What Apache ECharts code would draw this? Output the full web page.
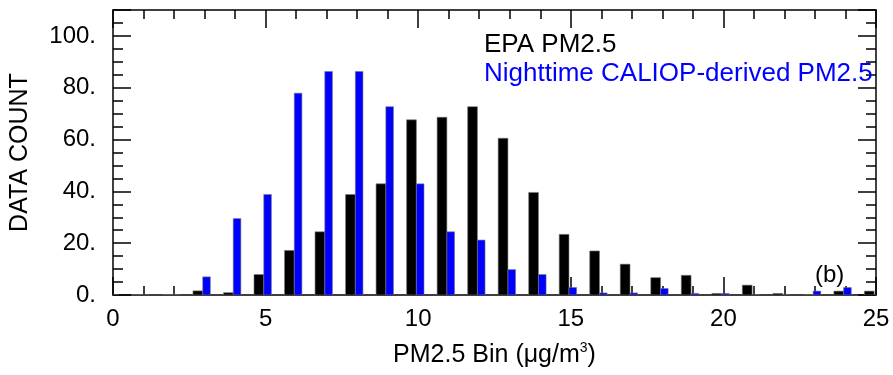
<!DOCTYPE html>
<html>
<head>
<meta charset="utf-8">
<script src="https://cdn.jsdelivr.net/npm/echarts@6/dist/echarts.min.js"></script>
<style>
  html, body { margin: 0; padding: 0; background: #fff; }
  #chart { width: 893px; height: 375px; }
</style>
</head>
<body>
<div id="chart"></div>
<script>
// bins are integer PM2.5 values, two histograms side by side
const bins = [0, 1, 2, 3, 4, 5, 6, 7, 8, 9, 10, 11, 12, 13, 14, 15, 16, 17, 18, 19, 20, 21, 22, 23, 24, 25]
const epaCounts = [0, 0, 0, 1.6, 0.9, 7.9, 17.2, 24.4, 38.8, 42.9, 67.6, 68.6, 72.7, 60.5, 39.6, 23.4, 17.0, 11.9, 6.7, 7.6, 0.6, 3.8, 0.6, 0, 1.5, 1.5]
const caliopCounts = [0, 0, 0, 7.0, 29.5, 38.8, 77.9, 86.3, 86.3, 72.7, 42.9, 24.4, 21.2, 9.8, 7.9, 2.9, 0.8, 0.8, 2.5, 0.6, 0.6, 0, 0, 1.5, 2.9, 0]
const xTicks = [0, 5, 10, 15, 20, 25]
const yTicks = [0, 20, 40, 60, 80, 100]

const FONT = 'Liberation Sans, Arial, Helvetica, sans-serif'

const chart = echarts.init(document.getElementById('chart'))

// draw a bar between bin+from and bin+to using the axis scales
function barRenderer (from, to, color) {
  return function (params, api) {
    const x = api.value(0)
    const y = api.value(1)
    const top = api.coord([x + from, y])
    const bottom = api.coord([x + to, 0])
    return {
      type: 'rect',
      shape: { x: top[0], y: top[1], width: bottom[0] - top[0], height: bottom[1] - top[1] },
      style: { fill: color, stroke: '#777', lineWidth: 0.6 }
    }
  }
}

const frameLine = { show: true, onZero: false, lineStyle: { color: '#000', width: 1.5 } }

const option = {
  animation: false,
  backgroundColor: '#fff',
  textStyle: { fontFamily: FONT },
  grid: { left: 110, right: 17, top: 10, bottom: 80 },
  legend: {
    left: 474,
    top: 27,
    orient: 'vertical',
    itemWidth: 0,
    itemHeight: 0,
    itemGap: 3,
    selectedMode: false,
    textStyle: { fontSize: 26, fontFamily: FONT },
    data: [
      { name: 'EPA PM2.5', icon: 'rect', textStyle: { color: '#000' } },
      { name: 'Nighttime CALIOP-derived PM2.5', icon: 'rect', textStyle: { color: '#0000ff' } }
    ]
  },
  xAxis: [
    {
      type: 'value',
      min: xTicks[0],
      max: xTicks[xTicks.length - 1],
      interval: 5,
      position: 'bottom',
      name: 'PM2.5 Bin (μg/m{sup|3})',
      nameLocation: 'middle',
      nameGap: 46,
      nameTextStyle: {
        fontSize: 25,
        color: '#000',
        fontFamily: FONT,
        rich: { sup: { fontSize: 14, verticalAlign: 'top', padding: [0, 0, 14, 0], color: '#000', fontFamily: FONT } }
      },
      axisLine: frameLine,
      axisTick: { show: true, inside: true, length: 18, lineStyle: { color: '#000', width: 1.5 } },
      minorTick: { show: true, splitNumber: 5, length: 9, lineStyle: { color: '#000', width: 1.5 } },
      axisLabel: { fontSize: 24, color: '#000', margin: 12, fontFamily: FONT },
      splitLine: { show: false }
    },
    {
      type: 'value',
      min: xTicks[0],
      max: xTicks[xTicks.length - 1],
      interval: 5,
      position: 'top',
      axisLine: frameLine,
      axisTick: { show: true, inside: true, length: 18, lineStyle: { color: '#000', width: 1.5 } },
      minorTick: { show: true, splitNumber: 5, length: 9, lineStyle: { color: '#000', width: 1.5 } },
      axisLabel: { show: false },
      splitLine: { show: false }
    }
  ],
  yAxis: [
    {
      type: 'value',
      min: yTicks[0],
      max: 110,
      interval: 20,
      position: 'left',
      name: 'DATA COUNT',
      nameLocation: 'middle',
      nameGap: 80,
      nameTextStyle: { fontSize: 25, color: '#000', fontFamily: FONT },
      axisLine: frameLine,
      axisTick: { show: true, inside: true, length: 18, lineStyle: { color: '#000', width: 1.5 } },
      minorTick: { show: true, splitNumber: 4, length: 10, lineStyle: { color: '#000', width: 1.5 } },
      axisLabel: {
        fontSize: 24,
        color: '#000',
        margin: 17,
        fontFamily: FONT,
        showMaxLabel: false,
        formatter: (v) => (yTicks.indexOf(v) >= 0 ? v + '.' : '')
      },
      splitLine: { show: false }
    },
    {
      type: 'value',
      min: yTicks[0],
      max: 110,
      interval: 20,
      position: 'right',
      axisLine: frameLine,
      axisTick: { show: true, inside: true, length: 18, lineStyle: { color: '#000', width: 1.5 } },
      minorTick: { show: true, splitNumber: 4, length: 10, lineStyle: { color: '#000', width: 1.5 } },
      axisLabel: { show: false },
      splitLine: { show: false }
    }
  ],
  graphic: [
    {
      type: 'text',
      left: 815,
      top: 263,
      style: { text: '(b)', fontSize: 24, fill: '#000', fontFamily: FONT }
    }
  ],
  series: [
    {
      name: 'EPA PM2.5',
      type: 'custom',
      clip: true,
      itemStyle: { color: '#000' },
      renderItem: barRenderer(-0.38, -0.06, '#000'),
      encode: { x: 0, y: 1 },
      data: bins.map((b, i) => [b, epaCounts[i]])
    },
    {
      name: 'Nighttime CALIOP-derived PM2.5',
      type: 'custom',
      clip: true,
      itemStyle: { color: '#0000ff' },
      renderItem: barRenderer(-0.06, 0.19, '#0000ff'),
      encode: { x: 0, y: 1 },
      data: bins.map((b, i) => [b, caliopCounts[i]])
    }
  ]
}

chart.setOption(option)
</script>
</body>
</html>
